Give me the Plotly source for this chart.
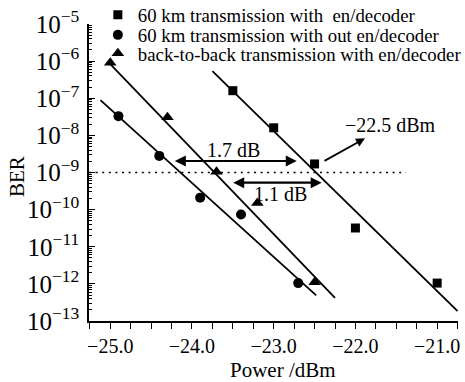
import plotly.graph_objects as go

# ---------------- data ----------------
sq_x = [-23.5, -23.0, -22.5, -22.0, -21.0]
sq_y = [1.6e-7, 1.6e-8, 1.7e-9, 3.2e-11, 1.05e-12]

ci_x = [-24.9, -24.4, -23.9, -23.4, -22.7]
ci_y = [3.3e-8, 2.8e-9, 2.1e-10, 7.4e-11, 1.05e-12]

tr_x = [-25.0, -24.3, -23.7, -23.2, -22.5]
tr_y = [9.0e-7, 3.1e-8, 1.05e-9, 1.5e-10, 1.1e-12]

# fitted lines (end points)
sq_fit_x = [-23.75, -20.75]
sq_fit_y = [5.4e-7, 1.86e-13]
tr_fit_x = [-25.02, -22.25]
tr_fit_y = [9.2e-7, 4.2e-13]
ci_fit_x = [-25.12, -22.48]
ci_fit_y = [8.9e-8, 4.9e-13]

ref_x = [-25.26, -21.38]
ref_y = [1e-9, 1e-9]

names = ["60 km transmission with  en/decoder",
         "60 km transmission with out en/decoder",
         "back-to-back transmission with en/decoder"]

FONT = "Liberation Serif"
BLACK = "black"

fig = go.Figure()

line_style = dict(color=BLACK, width=1.8)
fig.add_trace(go.Scatter(x=sq_fit_x, y=sq_fit_y, mode="lines", line=line_style, showlegend=False, hoverinfo="skip"))
fig.add_trace(go.Scatter(x=tr_fit_x, y=tr_fit_y, mode="lines", line=line_style, showlegend=False, hoverinfo="skip"))
fig.add_trace(go.Scatter(x=ci_fit_x, y=ci_fit_y, mode="lines", line=line_style, showlegend=False, hoverinfo="skip"))
fig.add_trace(go.Scatter(x=ref_x, y=ref_y, mode="lines", line=dict(color=BLACK, width=1.6, dash="2px,4.6px"),
                         showlegend=False, hoverinfo="skip"))

fig.add_trace(go.Scatter(x=sq_x, y=sq_y, mode="markers", name=names[0], legend="legend",
                         marker=dict(symbol="square", size=9, color=BLACK)))
fig.add_trace(go.Scatter(x=ci_x, y=ci_y, mode="markers", name=names[1], legend="legend2",
                         marker=dict(symbol="circle", size=10, color=BLACK)))
fig.add_trace(go.Scatter(x=tr_x, y=tr_y, mode="markers", name=names[2], legend="legend3",
                         marker=dict(symbol="triangle-up", size=11, color=BLACK)))

leg_common = dict(x=0.024, xanchor="left", yanchor="middle", bgcolor="rgba(0,0,0,0)",
                  font=dict(family=FONT, size=18.8, color=BLACK), itemwidth=30)

fig.update_layout(
    width=465, height=382, autosize=False,
    margin=dict(l=89, r=7, t=24, b=61, autoexpand=False),
    paper_bgcolor="white", plot_bgcolor="white",
    font=dict(family=FONT, size=20, color=BLACK),
    legend=dict(y=1.0303, **leg_common),
    legend2=dict(y=0.9625, **leg_common),
    legend3=dict(y=0.9005, **leg_common),
    xaxis=dict(
        range=[-25.26, -20.745], showgrid=False, zeroline=False,
        showline=True, linecolor=BLACK, linewidth=1.5,
        tickmode="linear", tick0=-25, dtick=1, tickformat=".1f",
        ticks="outside", ticklen=6, tickwidth=1.2, tickcolor=BLACK,
        tickfont=dict(family=FONT, size=20, color=BLACK),
        ticklabelstandoff=0,
        minor=dict(tickmode="linear", tick0=-25, dtick=0.25, ticks="outside", ticklen=6,
                   tickwidth=1.2, tickcolor=BLACK, showgrid=False),
    ),
    yaxis=dict(
        type="log", range=[-13, -5], showgrid=False, zeroline=False,
        showline=True, linecolor=BLACK, linewidth=1.5,
        tickmode="linear", tick0=0, dtick=1, exponentformat="power", showexponent="all",
        ticks="inside", ticklen=6, tickwidth=1.2, tickcolor=BLACK,
        tickfont=dict(family=FONT, size=20, color=BLACK),
        ticklabelstandoff=4,
        minor=dict(dtick="D1", ticks="inside", ticklen=3, tickwidth=1, tickcolor=BLACK, showgrid=False),
    ),
)

ann = []
# axis titles
ann.append(dict(text="Power /dBm", xref="paper", yref="paper", x=0.5244, y=-0.166,
                xanchor="center", yanchor="middle",
                showarrow=False, font=dict(family=FONT, size=21, color=BLACK)))
ann.append(dict(text="BER", xref="paper", yref="paper", x=-0.195, y=0.485, textangle=-90,
                xanchor="center", yanchor="middle",
                showarrow=False, font=dict(family=FONT, size=21, color=BLACK)))
# double arrows
ann.append(dict(x=-22.718, y=-8.690, ax=-24.228, ay=-8.690, xref="x", yref="y", axref="x", ayref="y",
                text="", showarrow=True, arrowhead=2, arrowside="end+start", arrowsize=1, arrowwidth=2.2,
                arrowcolor=BLACK))
ann.append(dict(x=-22.413, y=-9.275, ax=-23.514, ay=-9.275, xref="x", yref="y", axref="x", ayref="y",
                text="", showarrow=True, arrowhead=2, arrowside="end+start", arrowsize=1, arrowwidth=2.2,
                arrowcolor=BLACK))
# single arrow to -22.5 dBm
ann.append(dict(x=-21.883, y=-8.079, ax=-22.397, ay=-8.709, xref="x", yref="y", axref="x", ayref="y",
                text="", showarrow=True, arrowhead=2, arrowsize=1, arrowwidth=1.8, arrowcolor=BLACK))
# labels
ann.append(dict(x=-23.498, y=-8.394, xref="x", yref="y", text="1.7 dB", showarrow=False,
                font=dict(family=FONT, size=20, color=BLACK)))
ann.append(dict(x=-22.917, y=-9.579, xref="x", yref="y", text="1.1 dB", showarrow=False,
                font=dict(family=FONT, size=20, color=BLACK)))
ann.append(dict(x=-21.571, y=-7.721, xref="x", yref="y", text="\u221222.5 dBm", showarrow=False,
                font=dict(family=FONT, size=20, color=BLACK)))
fig.update_layout(annotations=ann)

fig.write_html("out.html", config={"displayModeBar": False},
               post_script="document.body.style.margin='0';document.body.style.overflow='hidden';")
